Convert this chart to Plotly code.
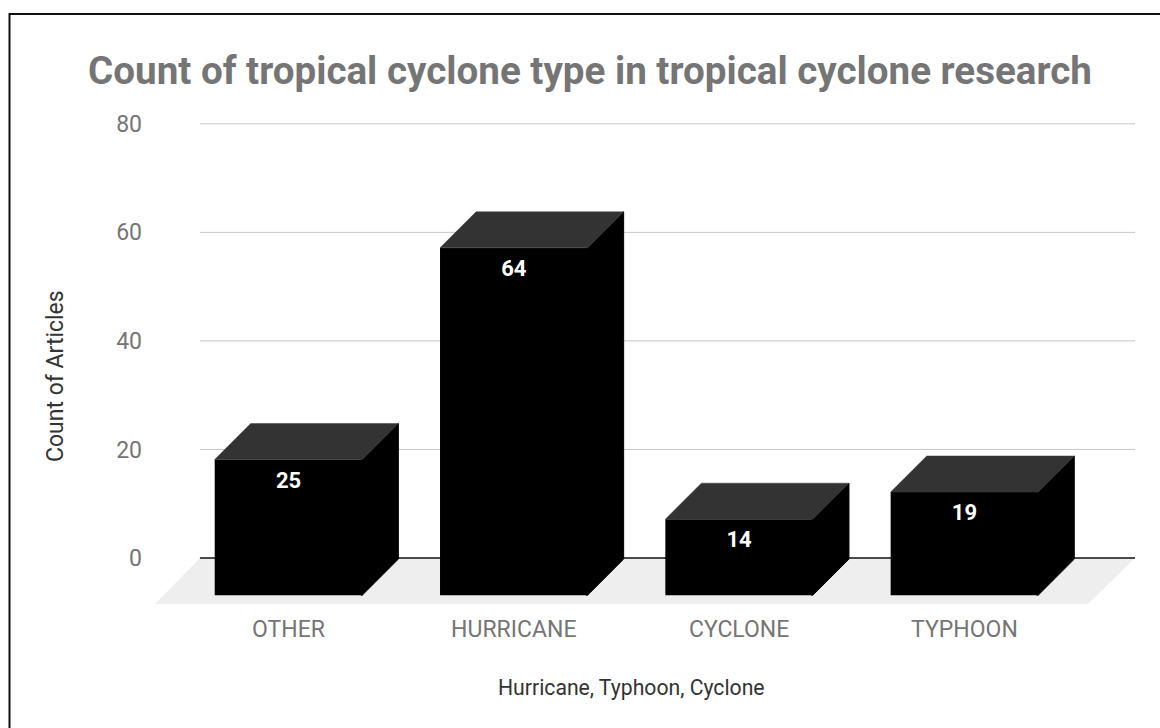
import plotly.graph_objects as go

# Chart data
categories = ["OTHER", "HURRICANE", "CYCLONE", "TYPHOON"]
article_counts = [25, 64, 14, 19]
y_ticks = [0, 20, 40, 60, 80]

title_text = "Count of tropical cyclone type in tropical cyclone research"
x_title_text = "Hurricane, Typhoon, Cyclone"
y_title_text = "Count of Articles"

# Canvas and plot area, in pixels
WIDTH, HEIGHT = 1160, 728
LEFT, RIGHT, TOP, BOTTOM = 155, 1135, 113, 604

# Axis ranges
X_RANGE = [-0.5925, 3.757]
Y_RANGE = [-8.48, 82]

# Pseudo-3D geometry, in axis units
BAR_WIDTH = 0.655
BAR_BASE = -6.85
DEPTH_X = 0.16
DEPTH_Y = 6.64
SEAM_OVERLAP = 0.006
GRID_START = -0.393
FLOOR_FRONT_END = 3.548

GREY_TEXT = "#757575"
DARK_TEXT = "#333333"
FONT = "Roboto"

positions = list(range(len(categories)))

# Floor, gridlines and baseline sit beneath the bars
shapes = [
    dict(
        type="path",
        xref="x",
        yref="y",
        layer="below",
        path=(
            f"M {X_RANGE[0]} {Y_RANGE[0]} L {GRID_START} 0 L {X_RANGE[1]} 0 "
            f"L {FLOOR_FRONT_END} {Y_RANGE[0]} Z"
        ),
        fillcolor="#eeeeee",
        line=dict(width=0),
    )
]
for tick in y_ticks:
    shapes.append(
        dict(
            type="line",
            xref="x",
            yref="y",
            layer="below",
            x0=GRID_START,
            x1=X_RANGE[1],
            y0=tick,
            y1=tick,
            line=dict(
                color="#111111" if tick == 0 else "#c6c6c6",
                width=1.3 if tick == 0 else 1,
            ),
        )
    )

# Frame along the top and left edges of the card
frame_x = (9.5 - LEFT) / (RIGHT - LEFT)
frame_y = 1 + (TOP - 14) / (BOTTOM - TOP)
shapes.append(
    dict(
        type="path",
        xref="paper",
        yref="paper",
        path=(
            f"M {frame_x} {1 - (HEIGHT - TOP) / (BOTTOM - TOP)} "
            f"L {frame_x} {frame_y} L {1 + (WIDTH - RIGHT) / (RIGHT - LEFT)} {frame_y}"
        ),
        line=dict(color="#111111", width=2),
    )
)

fig = go.Figure()

# Front faces
fig.add_trace(
    go.Bar(
        x=positions,
        y=article_counts,
        base=BAR_BASE,
        width=BAR_WIDTH,
        marker=dict(color="#000000", line=dict(width=0)),
        hoverinfo="skip",
    )
)

# Top and side faces, extruded from each bar
top_x, top_y, side_x, side_y = [], [], [], []
for pos, count in zip(positions, article_counts):
    x0 = pos - BAR_WIDTH / 2
    x1 = pos + BAR_WIDTH / 2
    y_top = BAR_BASE + count
    top_x += [x0, x0 + DEPTH_X, x1 + DEPTH_X, x1, x0, None]
    top_y += [y_top, y_top + DEPTH_Y, y_top + DEPTH_Y, y_top, y_top, None]
    # The side face runs slightly under the front face so no seam shows
    side_x += [
        x1 - SEAM_OVERLAP,
        x1,
        x1 + DEPTH_X,
        x1 + DEPTH_X,
        x1,
        x1 - SEAM_OVERLAP,
        x1 - SEAM_OVERLAP,
        None,
    ]
    side_y += [
        BAR_BASE,
        BAR_BASE,
        BAR_BASE + DEPTH_Y,
        y_top + DEPTH_Y,
        y_top,
        y_top,
        BAR_BASE,
        None,
    ]

fig.add_trace(
    go.Scatter(
        x=side_x,
        y=side_y,
        mode="lines",
        fill="toself",
        fillcolor="#000000",
        line=dict(color="#000000", width=1),
        hoverinfo="skip",
    )
)
fig.add_trace(
    go.Scatter(
        x=top_x,
        y=top_y,
        mode="lines",
        fill="toself",
        fillcolor="#333333",
        line=dict(color="#3c3c3c", width=0.5),
        hoverinfo="skip",
    )
)

# Value labels just below each bar's top edge
fig.add_trace(
    go.Scatter(
        x=positions,
        y=[BAR_BASE + count - 4.2 for count in article_counts],
        mode="text",
        text=[str(count) for count in article_counts],
        textposition="middle center",
        textfont=dict(family=FONT, size=22, color="#ffffff", weight="bold"),
        hoverinfo="skip",
    )
)

fig.update_layout(
    width=WIDTH,
    height=HEIGHT,
    autosize=False,
    margin=dict(l=LEFT, r=WIDTH - RIGHT, t=TOP, b=HEIGHT - BOTTOM, pad=0),
    paper_bgcolor="#ffffff",
    plot_bgcolor="rgba(0,0,0,0)",
    showlegend=False,
    shapes=shapes,
    title=dict(
        text=f"<b>{title_text}</b>",
        x=590 / WIDTH,
        xanchor="center",
        y=1 - 70 / HEIGHT,
        yanchor="middle",
        font=dict(family=FONT, size=38.6, color=GREY_TEXT),
    ),
    xaxis=dict(
        range=X_RANGE,
        tickmode="array",
        tickvals=positions,
        ticktext=categories,
        showgrid=False,
        zeroline=False,
        showline=False,
        ticks="",
        ticklabelstandoff=9,
        tickfont=dict(family=FONT, size=23, color=GREY_TEXT),
    ),
    yaxis=dict(
        range=Y_RANGE,
        tickmode="array",
        tickvals=y_ticks,
        showgrid=False,
        zeroline=False,
        showline=False,
        ticks="",
        ticklabelstandoff=12,
        tickfont=dict(family=FONT, size=23, color=GREY_TEXT),
    ),
    annotations=[
        dict(
            text=x_title_text,
            xref="paper",
            yref="paper",
            x=(631 - LEFT) / (RIGHT - LEFT),
            y=(BOTTOM - 687) / (BOTTOM - TOP),
            xanchor="center",
            yanchor="middle",
            showarrow=False,
            font=dict(family=FONT, size=21.2, color=DARK_TEXT),
        ),
        dict(
            text=y_title_text,
            xref="paper",
            yref="paper",
            x=(55 - LEFT) / (RIGHT - LEFT),
            y=(BOTTOM - 376) / (BOTTOM - TOP),
            xanchor="center",
            yanchor="middle",
            textangle=-90,
            showarrow=False,
            font=dict(family=FONT, size=23, color=DARK_TEXT),
        ),
    ],
)

fig.write_html("out.html", config=dict(displayModeBar=False))
